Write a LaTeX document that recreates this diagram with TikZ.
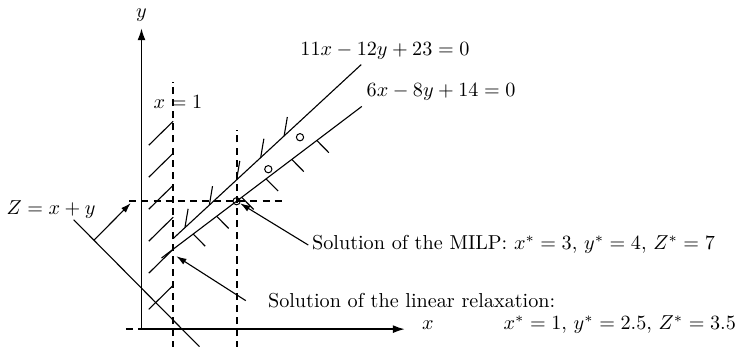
\documentclass[tikz,border=0pt]{standalone}
\usetikzlibrary{arrows.meta}
\begin{document}
\begin{tikzpicture}[x=0.552cm,y=0.557cm,
  axis/.style={line width=0.9pt},
  guide/.style={line width=0.9pt, dash pattern=on 3.5pt off 2.5pt},
  cline/.style={line width=0.55pt},
  hatch/.style={line width=0.55pt},
  arr/.style={line width=0.55pt,-{Latex[length=5pt,width=3.2pt]}},
  axarr/.style={axis,-{Latex[length=6pt,width=4pt]}},
  pt/.style={circle,draw,line width=0.5pt,minimum size=3.6pt,inner sep=0pt},
  lbl/.style={inner sep=0pt}]
\useasboundingbox (-4.464,-0.553) rectangle (18.912,10.29);
% axes
\coordinate (O) at (0,0);
\coordinate (xneg) at (-0.49,0);
\coordinate (xend) at (8.31,0);
\coordinate (yend) at (0,9.41);
\draw[guide] (xneg) -- (O);
\draw[axarr] (O) -- (xend);
\draw[axarr] (O) -- (yend);
\node[lbl,anchor=base west] (xlab) at (8.84,-0.02) {$x$};
\node[lbl] (ylab) at (0,9.82) {$y$};
% dashed guides
\coordinate (a1) at (1,-0.6);
\coordinate (a2) at (1,7.74);
\coordinate (b1) at (3,-0.6);
\coordinate (b2) at (3,6.23);
\coordinate (h1) at (-0.385,4);
\coordinate (h2) at (4.53,4);
\draw[guide] (a1) -- (a2);
\draw[guide] (b1) -- (b2);
\draw[guide] (h1) -- (h2);
\node[lbl,anchor=base west] (xeq) at (0.37,6.9) {$x = 1$};
% hatches of x >= 1
\foreach \yy in {6.5,5.5,4.5,3.5,2.5,1.37}
  \draw[hatch] (1,\yy) -- ++(-0.77,-0.75);
% constraint lines
\coordinate (u1) at (1,{34/12});
\coordinate (u2) at (6.93,{(11*6.93+23)/12});
\coordinate (l1) at (0.63,{(6*0.63+14)/8});
\coordinate (l2) at (6.95,{(6*6.95+14)/8});
\draw[cline] (u1) -- (u2);
\draw[cline] (l1) -- (l2);
\foreach \xx in {1.37,2.14,3.0,3.76,4.5}
  \draw[hatch] (\xx,{(11*\xx+23)/12}) -- ++(0.1,0.59);
\foreach \xx in {1.63,2.37,3.16,3.93,4.74,5.53}
  \draw[hatch] (\xx,{(6*\xx+14)/8}) -- ++(0.38,-0.38);
\node[lbl,anchor=base west] (eq1) at (5.0,8.57) {$11x-12y+23=0$};
\node[lbl,anchor=base west] (eq2) at (7.09,7.28) {$6x-8y+14=0$};
% integer points
\node[pt] (p34) at (3,4) {};
\node[pt] (p45) at (4,5) {};
\node[pt] (p56) at (5,6) {};
% objective line
\coordinate (z1) at (-2.14,3.42);
\coordinate (z2) at (1.83,-0.55);
\draw[cline] (z1) -- (z2);
\coordinate (za) at (-1.5,2.78);
\coordinate (zb) at (-0.34,3.94);
\draw[arr] (za) -- (zb);
\node[lbl,anchor=base west] (zlab) at (-4.27,3.57) {$Z = x + y$};
% solutions
\node[lbl,anchor=base west] (milp) at (5.37,2.48) {Solution of the MILP: $x^* = 3$, $y^* = 4$, $Z^* = 7$};
\coordinate (milpstart) at (5.26,2.63);
\draw[arr] (milpstart) -- (p34);
\node[lbl,anchor=base west] (relax1) at (3.98,0.69) {Solution of the linear relaxation:};
\node[lbl,anchor=base west] (relax2) at (11.41,-0.02) {$x^* = 1$, $y^* = 2.5$, $Z^* = 3.5$};
\coordinate (relaxstart) at (3.29,0.89);
\coordinate (relaxtip) at (1.1,2.28);
\draw[arr] (relaxstart) -- (relaxtip);
\end{tikzpicture}
\end{document}
